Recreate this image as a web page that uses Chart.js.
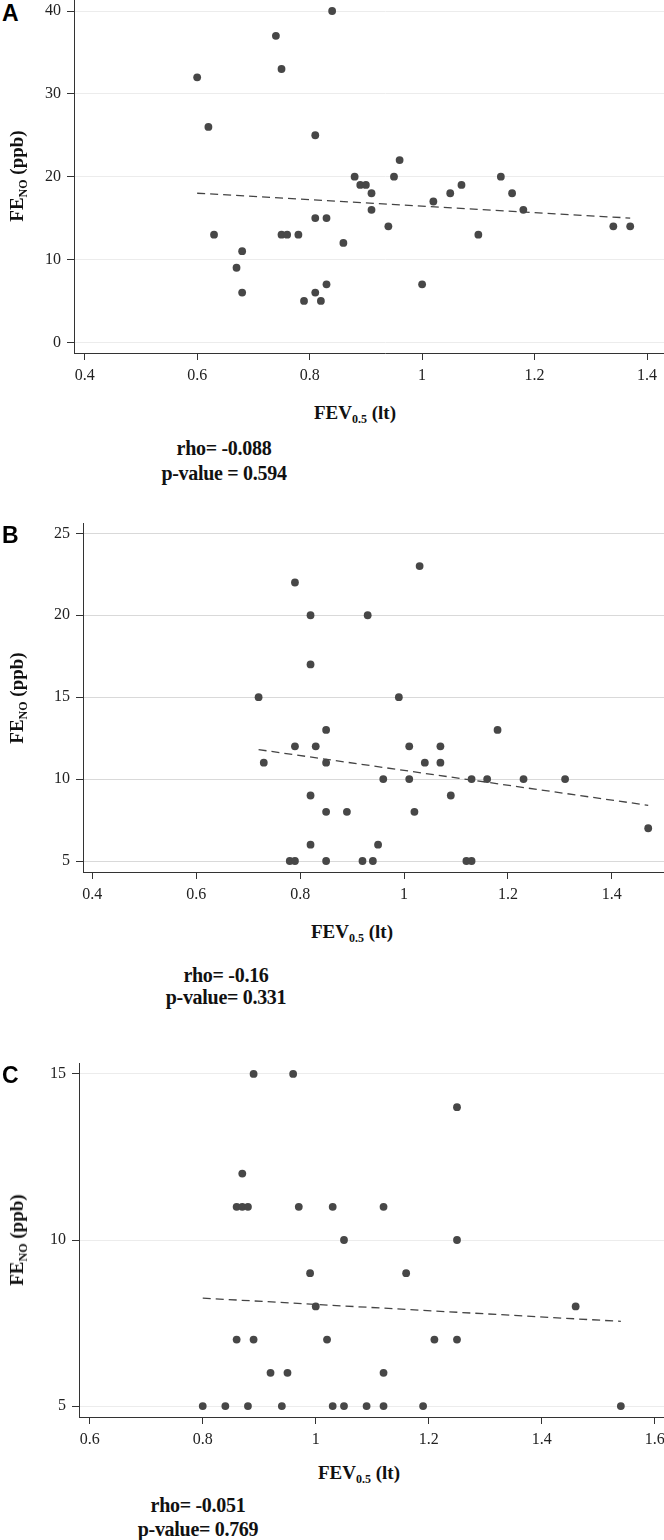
<!DOCTYPE html>
<html>
<head>
<meta charset="utf-8">
<title>FENO vs FEV0.5</title>
<script src="https://cdn.jsdelivr.net/npm/chart.js@4.4.1/dist/chart.umd.min.js"></script>
<style>
  html, body { margin: 0; padding: 0; background: #fff; }
  body { width: 664px; height: 1540px; overflow: hidden; position: relative; }
  canvas { position: absolute; left: 0; }
  .txt {
    position: absolute; white-space: nowrap; color: #111;
    font-family: "Liberation Serif", "Times New Roman", serif; font-weight: bold;
    transform: translate(-50%, -50%);
  }
  .ttl { font-size: 19px; }
  .ttl sub { font-size: 12px; vertical-align: -4px; line-height: 0; }
  .yt { transform: translate(-50%, -50%) rotate(-90deg); }
  .stat { font-size: 20px; letter-spacing: -0.3px; }
  .letter {
    position: absolute; left: 2px; font-family: "Liberation Sans", Arial, sans-serif;
    font-weight: bold; font-size: 23px; color: #000; transform: translateY(-50%);
  }
</style>
</head>
<body>

<div class="letter" style="top:13px">A</div>
<canvas id="chartA" width="700" height="413" style="top:-20px"></canvas>
<div class="txt ttl yt" style="left:17px; top:176px">FE<sub>NO</sub> (ppb)</div>
<div class="txt ttl" style="left:355px; top:413px">FEV<sub>0.5</sub> (lt)</div>
<div class="txt stat" style="left:224px; top:448px">rho= -0.088</div>
<div class="txt stat" style="left:224px; top:473px">p-value = 0.594</div>

<div class="letter" style="top:535px">B</div>
<canvas id="chartB" width="700" height="409" style="top:503px"></canvas>
<div class="txt ttl yt" style="left:17px; top:698px">FE<sub>NO</sub> (ppb)</div>
<div class="txt ttl" style="left:352px; top:932px">FEV<sub>0.5</sub> (lt)</div>
<div class="txt stat" style="left:226px; top:975px">rho= -0.16</div>
<div class="txt stat" style="left:226px; top:997px">p-value= 0.331</div>

<div class="letter" style="top:1075px">C</div>
<canvas id="chartC" width="700" height="414" style="top:1043px"></canvas>
<div class="txt ttl yt" style="left:17px; top:1240px">FE<sub>NO</sub> (ppb)</div>
<div class="txt ttl" style="left:359px; top:1473px">FEV<sub>0.5</sub> (lt)</div>
<div class="txt stat" style="left:198px; top:1505px">rho= -0.051</div>
<div class="txt stat" style="left:198px; top:1529px">p-value= 0.769</div>

<script>
"use strict";

/* ── Data: panel A ───────────────────────────────────────────────────── */
const fevA = [
  0.60, 0.62, 0.63, 0.67, 0.68, 0.68, 0.74, 0.75, 0.75, 0.76,
  0.78, 0.79, 0.81, 0.81, 0.81, 0.82, 0.83, 0.83, 0.84, 0.86,
  0.88, 0.89, 0.90, 0.91, 0.91, 0.94, 0.95, 0.96, 1.00, 1.02,
  1.05, 1.07, 1.10, 1.14, 1.16, 1.18, 1.34, 1.37,
];
const fenoA = [
  32, 26, 13, 9, 11, 6, 37, 33, 13, 13,
  13, 5, 25, 15, 6, 5, 15, 7, 40, 12,
  20, 19, 19, 18, 16, 14, 20, 22, 7, 17,
  18, 19, 13, 20, 18, 16, 14, 14,
];
const trendXA = [0.60, 1.37];
const trendYA = [18.0, 15.0];
const xTicksA = [0.4, 0.6, 0.8, 1, 1.2, 1.4];
const yTicksA = [0, 10, 20, 30, 40];

/* ── Data: panel B ───────────────────────────────────────────────────── */
const fevB = [
  0.72, 0.73, 0.78, 0.79, 0.79, 0.79, 0.82, 0.82, 0.82, 0.82,
  0.83, 0.85, 0.85, 0.85, 0.85, 0.89, 0.92, 0.93, 0.94, 0.95,
  0.96, 0.99, 1.01, 1.01, 1.02, 1.03, 1.04, 1.07, 1.07, 1.09,
  1.12, 1.13, 1.13, 1.16, 1.18, 1.23, 1.31, 1.47,
];
const fenoB = [
  15, 11, 5, 22, 12, 5, 20, 17, 9, 6,
  12, 13, 11, 8, 5, 8, 5, 20, 5, 6,
  10, 15, 12, 10, 8, 23, 11, 12, 11, 9,
  5, 10, 5, 10, 13, 10, 10, 7,
];
const trendXB = [0.72, 1.47];
const trendYB = [11.8, 8.4];
const xTicksB = [0.4, 0.6, 0.8, 1, 1.2, 1.4];
const yTicksB = [5, 10, 15, 20, 25];

/* ── Data: panel C ───────────────────────────────────────────────────── */
const fevC = [
  0.80, 0.84, 0.86, 0.86, 0.87, 0.87, 0.88, 0.88, 0.89, 0.89,
  0.92, 0.94, 0.95, 0.96, 0.97, 0.99, 1.00, 1.02, 1.03, 1.03,
  1.05, 1.05, 1.09, 1.12, 1.12, 1.12, 1.16, 1.19, 1.21, 1.25,
  1.25, 1.25, 1.46, 1.54,
];
const fenoC = [
  5, 5, 11, 7, 12, 11, 11, 5, 15, 7,
  6, 5, 6, 15, 11, 9, 8, 7, 11, 5,
  10, 5, 5, 11, 6, 5, 9, 5, 7, 14,
  10, 7, 8, 5,
];
const trendXC = [0.80, 1.54];
const trendYC = [8.25, 7.55];
const xTicksC = [0.6, 0.8, 1, 1.2, 1.4, 1.6];
const yTicksC = [5, 10, 15];

/* ── Shared styling ──────────────────────────────────────────────────── */
const AXIS_COLOR = "#333";
const DOT_COLOR = "#474747";
const TICK_FONT = { family: "'Liberation Serif', 'Times New Roman', serif", size: 16 };

/* ── Scatter panel ───────────────────────────────────────────────────── */
/**
 * p: { id, xs, ys, tx, ty, xTicks, yTicks, xRange, yRange, left, grid }
 * left  - ширина оси Y в пикселях (левая граница области графика)
 */
function initPanel(p) {
  const canvas = document.getElementById(p.id);
  if (!canvas) return;

  const points = p.xs.map((x, i) => ({ x, y: p.ys[i] }));
  const trend = p.tx.map((x, i) => ({ x, y: p.ty[i] }));

  new Chart(canvas.getContext("2d"), {
    type: "scatter",
    data: {
      datasets: [
        {
          data: points,
          pointRadius: 3.9,
          pointBorderWidth: 0,
          pointBackgroundColor: DOT_COLOR,
        },
        {
          type: "line",
          data: trend,
          borderColor: "#444",
          borderWidth: 1.3,
          borderDash: [8, 5],
          pointRadius: 0,
          fill: false,
        },
      ],
    },
    options: {
      responsive: false,
      animation: false,
      events: [],
      layout: { padding: { top: 20, left: 0, right: 0, bottom: 0 } },
      plugins: { legend: { display: false }, tooltip: { enabled: false } },
      scales: {
        x: {
          type: "linear",
          min: p.xRange[0],
          max: p.xRange[1],
          afterBuildTicks: (s) => { s.ticks = p.xTicks.map((v) => ({ value: v })); },
          afterFit: (s) => { s.height = 40; },
          grid: { drawOnChartArea: false, drawTicks: true, tickLength: 7, tickColor: AXIS_COLOR },
          border: { color: AXIS_COLOR, width: 1 },
          ticks: { color: "#222", font: TICK_FONT, padding: 6, maxRotation: 0, callback: (v) => String(v) },
        },
        y: {
          type: "linear",
          min: p.yRange[0],
          max: p.yRange[1],
          afterBuildTicks: (s) => { s.ticks = p.yTicks.map((v) => ({ value: v })); },
          afterFit: (s) => { s.width = p.left; },
          grid: { color: p.grid, lineWidth: 1, drawTicks: true, tickLength: 7, tickColor: AXIS_COLOR },
          border: { color: AXIS_COLOR, width: 1 },
          ticks: { color: "#222", font: TICK_FONT, padding: 6, callback: (v) => String(v) },
        },
      },
    },
  });
}

/* ── Bootstrap ───────────────────────────────────────────────────────── */
initPanel({
  id: "chartA", xs: fevA, ys: fenoA, tx: trendXA, ty: trendYA,
  xTicks: xTicksA, yTicks: yTicksA,
  xRange: [0.381, 1.487], yRange: [-1.29, 41.33], left: 74, grid: "#ececec",
});
initPanel({
  id: "chartB", xs: fevB, ys: fenoB, tx: trendXB, ty: trendYB,
  xTicks: xTicksB, yTicks: yTicksB,
  xRange: [0.382, 1.562], yRange: [4.33, 25.63], left: 83, grid: "#d9d9d9",
});
initPanel({
  id: "chartC", xs: fevC, ys: fenoC, tx: trendXC, ty: trendYC,
  xTicks: xTicksC, yTicks: yTicksC,
  xRange: [0.581, 1.673], yRange: [4.67, 15.33], left: 79, grid: "#ececec",
});
</script>
</body>
</html>
